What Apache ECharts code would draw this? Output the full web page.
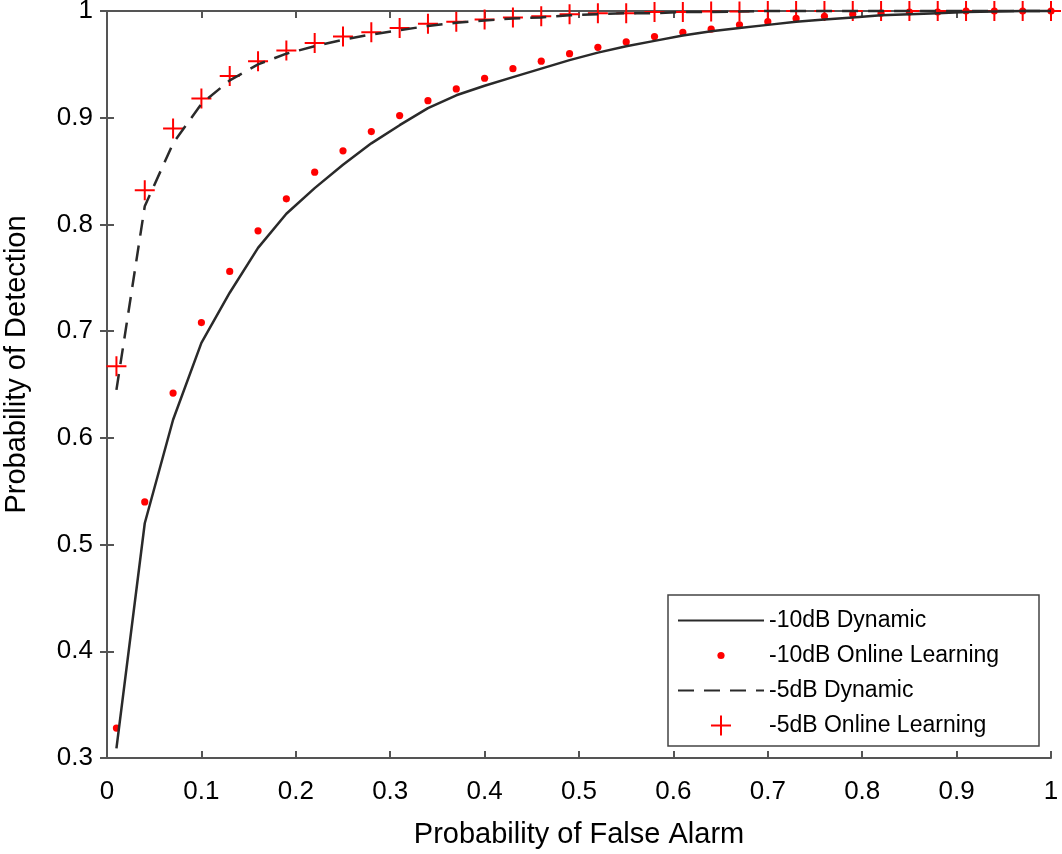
<!DOCTYPE html>
<html>
<head>
<meta charset="utf-8">
<script src="https://cdn.jsdelivr.net/npm/echarts@6/dist/echarts.min.js"></script>
<style>
	html, body { margin: 0; padding: 0; background: #fff; }
	#chart { width: 1062px; height: 854px; }
</style>
</head>
<body>
<div id="chart"></div>
<script>
// probability of false alarm (x)
var pfa = [0.01, 0.04, 0.07, 0.10, 0.13, 0.16, 0.19, 0.22, 0.25, 0.28, 0.31, 0.34, 0.37, 0.40, 0.43, 0.46, 0.49,
	0.52, 0.55, 0.58, 0.61, 0.64, 0.67, 0.70, 0.73, 0.76, 0.79, 0.82, 0.85, 0.88, 0.91, 0.94, 0.97, 1.00];

var pd10Dynamic = [0.309, 0.520, 0.617, 0.689, 0.736, 0.778, 0.810, 0.834, 0.856, 0.876, 0.893, 0.909, 0.921, 0.930,
	0.938, 0.946, 0.954, 0.961, 0.967, 0.972, 0.977, 0.981, 0.984, 0.987, 0.990, 0.992, 0.994, 0.996, 0.997, 0.998,
	0.999, 0.9995, 1, 1];
var pd10Online = [0.328, 0.540, 0.642, 0.708, 0.756, 0.794, 0.824, 0.849, 0.869, 0.887, 0.902, 0.916, 0.927, 0.937,
	0.946, 0.953, 0.960, 0.966, 0.971, 0.976, 0.980, 0.983, 0.987, 0.990, 0.993, 0.995, 0.997, 0.998, 0.999, 0.999,
	1, 1, 1, 1];
var pd5Dynamic = [0.645, 0.817, 0.876, 0.913, 0.935, 0.950, 0.960, 0.967, 0.973, 0.978, 0.982, 0.986, 0.989, 0.991,
	0.993, 0.994, 0.996, 0.997, 0.998, 0.998, 0.999, 0.999, 0.9995, 1, 1, 1, 1, 1, 1, 1, 1, 1, 1, 1];
var pd5Online = [0.667, 0.832, 0.890, 0.918, 0.939, 0.953, 0.963, 0.970, 0.976, 0.980, 0.984, 0.988, 0.990, 0.992,
	0.994, 0.995, 0.997, 0.998, 0.998, 0.999, 0.999, 0.9995, 0.9995, 1, 1, 1, 1, 1, 1, 1, 1, 1, 1, 1];

var seriesNames = ['-10dB Dynamic', '-10dB Online Learning', '-5dB Dynamic', '-5dB Online Learning'];

function pairs(ys) {
	var out = [];
	for (var i = 0; i < pfa.length; i++) {
		out.push([pfa[i], ys[i]]);
	}
	return out;
}

// marker shapes in a 20x20 box (dot is padded with invisible move points)
var dotSymbol = 'path://M0,0 M20,20 M13.6,10 A3.6,3.6 0 1,1 6.4,10 A3.6,3.6 0 1,1 13.6,10 Z';
var plusSymbol = 'path://M9,0 L11,0 L11,9 L20,9 L20,11 L11,11 L11,20 L9,20 L9,11 L0,11 L0,9 L9,9 Z';

var font = 'Liberation Sans, Arial, sans-serif';
var frame = '#555';
var ink = '#000';

var myChart = echarts.init(document.getElementById('chart'));
var option = {
	animation: false,
	backgroundColor: '#fff',
	grid: { left: 107, right: 11, top: 11, bottom: 96, outerBoundsMode: 'none', containLabel: false },
	legend: {
		orient: 'vertical',
		left: 668,
		top: 595,
		padding: [14, 12, 9, 9],
		itemWidth: 86,
		itemHeight: 20,
		itemGap: 12,
		backgroundColor: '#fff',
		borderColor: '#444',
		borderWidth: 1.5,
		borderRadius: 0,
		textStyle: { fontFamily: font, fontSize: 23, color: ink, lineHeight: 20, width: 258 },
		data: [
			{ name: seriesNames[0], itemStyle: { opacity: 0 } },
			{ name: seriesNames[1] },
			{ name: seriesNames[2], itemStyle: { opacity: 0 } },
			{ name: seriesNames[3] }
		]
	},
	xAxis: [{
		type: 'value',
		min: 0, max: 1, interval: 0.1,
		name: 'Probability of False Alarm',
		nameLocation: 'middle',
		nameGap: 62,
		nameTextStyle: { fontFamily: font, fontSize: 29, color: ink },
		axisLine: { lineStyle: { color: frame, width: 2 } },
		axisTick: { inside: true, length: 7, lineStyle: { color: frame, width: 2 } },
		axisLabel: { fontFamily: font, fontSize: 26, color: ink, margin: 21 },
		splitLine: { show: false }
	}, {
		type: 'value',
		position: 'top',
		min: 0, max: 1, interval: 0.1,
		axisLine: { lineStyle: { color: frame, width: 2 } },
		axisTick: { inside: true, length: 7, lineStyle: { color: frame, width: 2 } },
		axisLabel: { show: false },
		splitLine: { show: false }
	}],
	yAxis: [{
		type: 'value',
		min: 0.3, max: 1, interval: 0.1,
		name: 'Probability of Detection',
		nameLocation: 'middle',
		nameGap: 76,
		nameTextStyle: { fontFamily: font, fontSize: 29, color: ink, padding: [0, 0, 0, 40] },
		axisLine: { lineStyle: { color: frame, width: 2 } },
		axisTick: { inside: true, length: 7, lineStyle: { color: frame, width: 2 } },
		axisLabel: { fontFamily: font, fontSize: 26, color: ink, margin: 14, padding: [6, 0, 0, 0] },
		splitLine: { show: false }
	}, {
		type: 'value',
		position: 'right',
		min: 0.3, max: 1, interval: 0.1,
		axisLine: { lineStyle: { color: frame, width: 2 } },
		axisTick: { inside: true, length: 7, lineStyle: { color: frame, width: 2 } },
		axisLabel: { show: false },
		splitLine: { show: false }
	}],
	series: [{
		name: seriesNames[0],
		type: 'line',
		data: pairs(pd10Dynamic),
		symbol: 'none',
		clip: false,
		lineStyle: { color: '#2a2a2a', width: 2.5 },
		itemStyle: { color: '#2a2a2a' }
	}, {
		name: seriesNames[1],
		type: 'scatter',
		data: pairs(pd10Online),
		symbol: dotSymbol,
		symbolSize: 20,
		symbolKeepAspect: true,
		clip: false,
		itemStyle: { color: '#ff0000', opacity: 1 }
	}, {
		name: seriesNames[2],
		type: 'line',
		data: pairs(pd5Dynamic),
		symbol: 'none',
		clip: false,
		lineStyle: { color: '#2a2a2a', width: 2.5, type: [16, 10] },
		itemStyle: { color: '#2a2a2a' }
	}, {
		name: seriesNames[3],
		type: 'scatter',
		data: pairs(pd5Online),
		symbol: plusSymbol,
		symbolSize: 20,
		symbolKeepAspect: true,
		clip: false,
		itemStyle: { color: '#ff0000', opacity: 1 }
	}]
};
myChart.setOption(option);
</script>
</body>
</html>
